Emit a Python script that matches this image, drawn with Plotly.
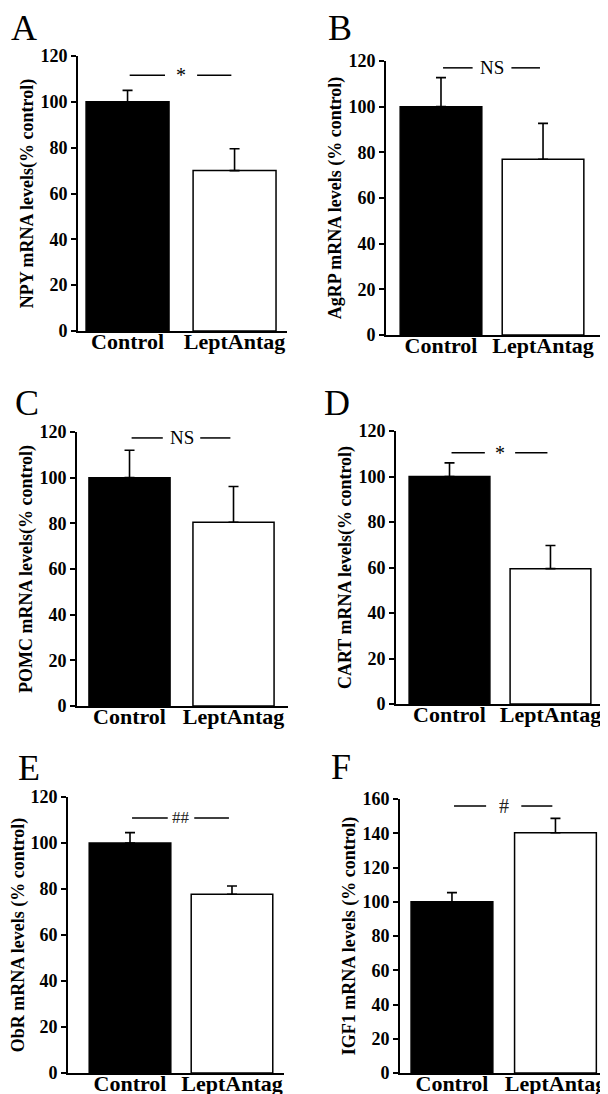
import plotly.graph_objects as go

W, H = 608, 1094
OFF = 8  # page body margin of the rendering browser

# ---------------- data ----------------
panel_letters = ["A", "B", "C", "D", "E", "F"]
groups = ["Control", "LeptAntag"]
y_titles = [
    "NPY mRNA levels(% control)",
    "AgRP mRNA levels (% control)",
    "POMC mRNA levels(% control)",
    "CART mRNA levels(% control)",
    "ObR mRNA levels (% control)",
    "IGF1 mRNA levels (% control)",
]
control_mean = [100, 100, 100, 100, 100, 100]
control_sem = [5.0, 12.7, 12.0, 6.0, 4.5, 5.3]
lept_mean = [70.0, 77.0, 80.5, 59.5, 77.7, 140.3]
lept_sem = [9.5, 15.7, 15.6, 10.2, 3.6, 8.4]
sig_labels = ["*", "NS", "NS", "*", "##", "#"]
sig_heights = [111.6, 117.0, 117.4, 110.4, 110.9, 155.9]
y_max = [120, 120, 120, 120, 120, 160]
y_step = 20

# ---------------- layout (pixel boxes of plot areas, window coords) ----------------
# left, right, top (y max), bottom (y = 0)
boxes = [
    (78, 287, 56, 331),
    (386, 602, 61, 335),
    (77, 288, 432, 706),
    (396, 606, 431, 704),
    (68, 284, 797, 1073),
    (400, 607, 799, 1073),
]
x_ranges = [
    [-0.463, 1.49],
    [-0.539, 1.578],
    [-0.505, 1.524],
    [-0.53, 1.55],
    [-0.608, 1.51],
    [-0.502, 1.498],
]
bar_widths = [0.775, 0.80, 0.78, 0.80, 0.80, 0.79]
sig_gap = [0.15, 0.19, 0.18, 0.15, 0.13, 0.17]
sig_sizes = [20, 19, 19, 20, 17, 20]
# left edge / cap centre of the panel letters, window coords
letter_pos = [(9, 25), (326, 25), (13, 400), (322, 400), (16, 765), (329, 764)]


def fx(px):
    return (px - OFF) / W


def fy(py):
    return 1 - (py - OFF) / H


SERIF = "Liberation Serif"

fig = go.Figure()

for i in range(6):
    n = "" if i == 0 else str(i + 1)
    xa, ya = "x" + n, "y" + n
    fig.add_trace(go.Bar(
        x=groups,
        y=[control_mean[i], lept_mean[i]],
        width=bar_widths[i],
        marker=dict(color=["black", "white"], line=dict(color="black", width=1.5)),
        error_y=dict(type="data", symmetric=False,
                     array=[control_sem[i], lept_sem[i]],
                     arrayminus=[0, 0],
                     color="black", thickness=1.6, width=5),
        xaxis=xa, yaxis=ya, showlegend=False,
    ))

    tickvals = list(range(0, y_max[i] + 1, y_step))
    l, r, t, b = boxes[i]
    fig.layout["xaxis" + n] = dict(
        domain=[fx(l), fx(r)], anchor=ya, range=x_ranges[i],
        automargin=False,
        showline=True, linecolor="black", linewidth=1.6,
        ticks="", showgrid=False, zeroline=False,
        tickmode="array", tickvals=groups, ticktext=["<b>%s</b>" % g for g in groups],
        tickfont=dict(family=SERIF, size=22, color="black"),
        ticklabelstandoff=-10,
    )
    fig.layout["yaxis" + n] = dict(
        domain=[fy(b), fy(t)], anchor=xa, range=[0, y_max[i]],
        automargin=False,
        tickmode="array", tickvals=tickvals, ticktext=["<b>%d</b>" % v for v in tickvals],
        showline=True, linecolor="black", linewidth=1.6,
        ticks="outside", ticklen=5, tickwidth=1.6, tickcolor="black",
        showgrid=False, zeroline=False,
        tickfont=dict(family=SERIF, size=18, color="black"),
        title=dict(text="<b>%s</b>" % y_titles[i], standoff=2,
                   font=dict(family=SERIF, size=18, color="black")),
    )

    # significance bracket
    y = sig_heights[i]
    for x0, x1 in [(0.02, 0.5 - sig_gap[i]), (0.5 + sig_gap[i], 0.97)]:
        fig.add_shape(type="line", xref=xa, yref=ya, x0=x0, x1=x1, y0=y, y1=y,
                      line=dict(color="black", width=1.5))
    fig.add_annotation(xref=xa, yref=ya, x=0.5, y=y, text=sig_labels[i],
                       showarrow=False, yanchor="middle",
                       font=dict(family=SERIF, size=sig_sizes[i],
                                 color="#222" if "#" in sig_labels[i] else "black"))

    px, py = letter_pos[i]
    fig.add_annotation(xref="paper", yref="paper", x=fx(px), y=fy(py + 3),
                       text=panel_letters[i], showarrow=False,
                       xanchor="left", yanchor="middle",
                       font=dict(family=SERIF, size=36, color="black"))

fig.update_layout(
    width=W, height=H,
    margin=dict(l=0, r=0, t=0, b=0, pad=0, autoexpand=False),
    paper_bgcolor="white", plot_bgcolor="white",
    bargap=0.2,
)

fig.write_html("out.html")
